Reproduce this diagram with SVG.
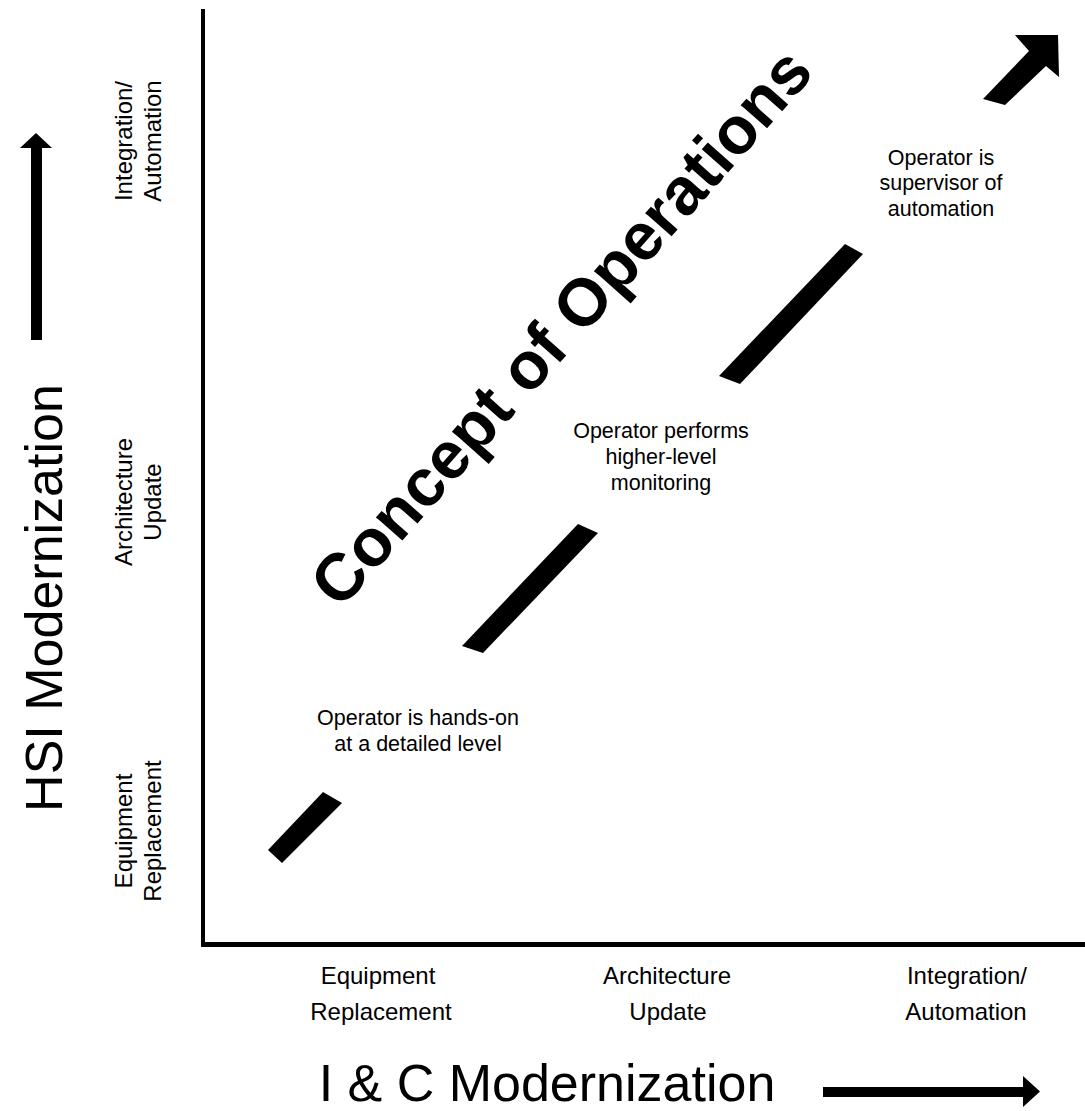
<svg xmlns="http://www.w3.org/2000/svg" width="1085" height="1111" viewBox="0 0 1085 1111">
  <style>
    text { font-family: "Liberation Sans", Arial, sans-serif; fill: #000; }
    .axis-title { font-size: 52px; }
    .tick { font-size: 24px; text-anchor: middle; }
    .role { font-size: 21.5px; text-anchor: middle; }
    .concept { font-size: 66.5px; font-weight: bold; text-anchor: middle; }
    .solid { fill: #000; stroke: none; }
  </style>

  <rect width="1085" height="1111" fill="#fff"/>

  <!-- Axes -->
  <g id="axes">
    <rect class="solid" x="201" y="9" width="4" height="938"/>
    <rect class="solid" x="201" y="942" width="884" height="5"/>
  </g>

  <!-- Direction arrows next to the axis titles -->
  <g id="axis-arrows">
    <polygon class="solid" points="36,133 52,148 42,148 42,340 31,340 31,148 20,148"/>
    <polygon class="solid" points="823,1087 1023,1087 1023,1076 1040,1091.5 1023,1107 1023,1097 823,1097"/>
  </g>

  <!-- Axis titles -->
  <g id="axis-titles">
    <text class="axis-title" text-anchor="middle" transform="translate(62,598) rotate(-90)">HSI Modernization</text>
    <text class="axis-title" text-anchor="middle" x="547" y="1101">I &amp; C Modernization</text>
  </g>

  <!-- Vertical axis levels -->
  <g id="y-levels">
    <g id="y-integration" transform="translate(0,141) rotate(-90)">
      <text class="tick" x="0" y="132">Integration/</text>
      <text class="tick" x="0" y="161">Automation</text>
    </g>
    <g id="y-architecture" transform="translate(0,502) rotate(-90)">
      <text class="tick" x="0" y="132">Architecture</text>
      <text class="tick" x="0" y="161">Update</text>
    </g>
    <g id="y-equipment" transform="translate(0,831) rotate(-90)">
      <text class="tick" x="0" y="132">Equipment</text>
      <text class="tick" x="0" y="161">Replacement</text>
    </g>
  </g>

  <!-- Horizontal axis levels -->
  <g id="x-levels">
    <g id="x-equipment">
      <text class="tick" x="378" y="984">Equipment</text>
      <text class="tick" x="381" y="1020">Replacement</text>
    </g>
    <g id="x-architecture">
      <text class="tick" x="667" y="984">Architecture</text>
      <text class="tick" x="668" y="1020">Update</text>
    </g>
    <g id="x-integration">
      <text class="tick" x="967" y="984">Integration/</text>
      <text class="tick" x="966" y="1020">Automation</text>
    </g>
  </g>

  <!-- Operator role at each stage -->
  <g id="role-hands-on">
    <text class="role" x="418" y="725">Operator is hands-on</text>
    <text class="role" x="418" y="751">at a detailed level</text>
  </g>
  <g id="role-monitoring">
    <text class="role" x="661" y="438">Operator performs</text>
    <text class="role" x="661" y="464">higher-level</text>
    <text class="role" x="661" y="490">monitoring</text>
  </g>
  <g id="role-supervisor">
    <text class="role" x="941" y="165">Operator is</text>
    <text class="role" x="941" y="190">supervisor of</text>
    <text class="role" x="941" y="216">automation</text>
  </g>

  <!-- Diagonal progression bar, broken around the role labels -->
  <g id="connectors">
    <polygon class="solid" points="323,792 342,803 282,863 268,850"/>
    <polygon class="solid" points="578,524 598,533 483,653 462,646"/>
    <polygon class="solid" points="845,244 863,254 740,384 719,376"/>
    <polygon class="solid" points="1015,35 1058,35 1059,77 1046,66 1005,105 983,99 1029,51"/>
  </g>

  <!-- Diagonal heading -->
  <g id="concept-title">
    <text class="concept" transform="translate(578,342) rotate(-48.5)">Concept of Operations</text>
  </g>
</svg>
